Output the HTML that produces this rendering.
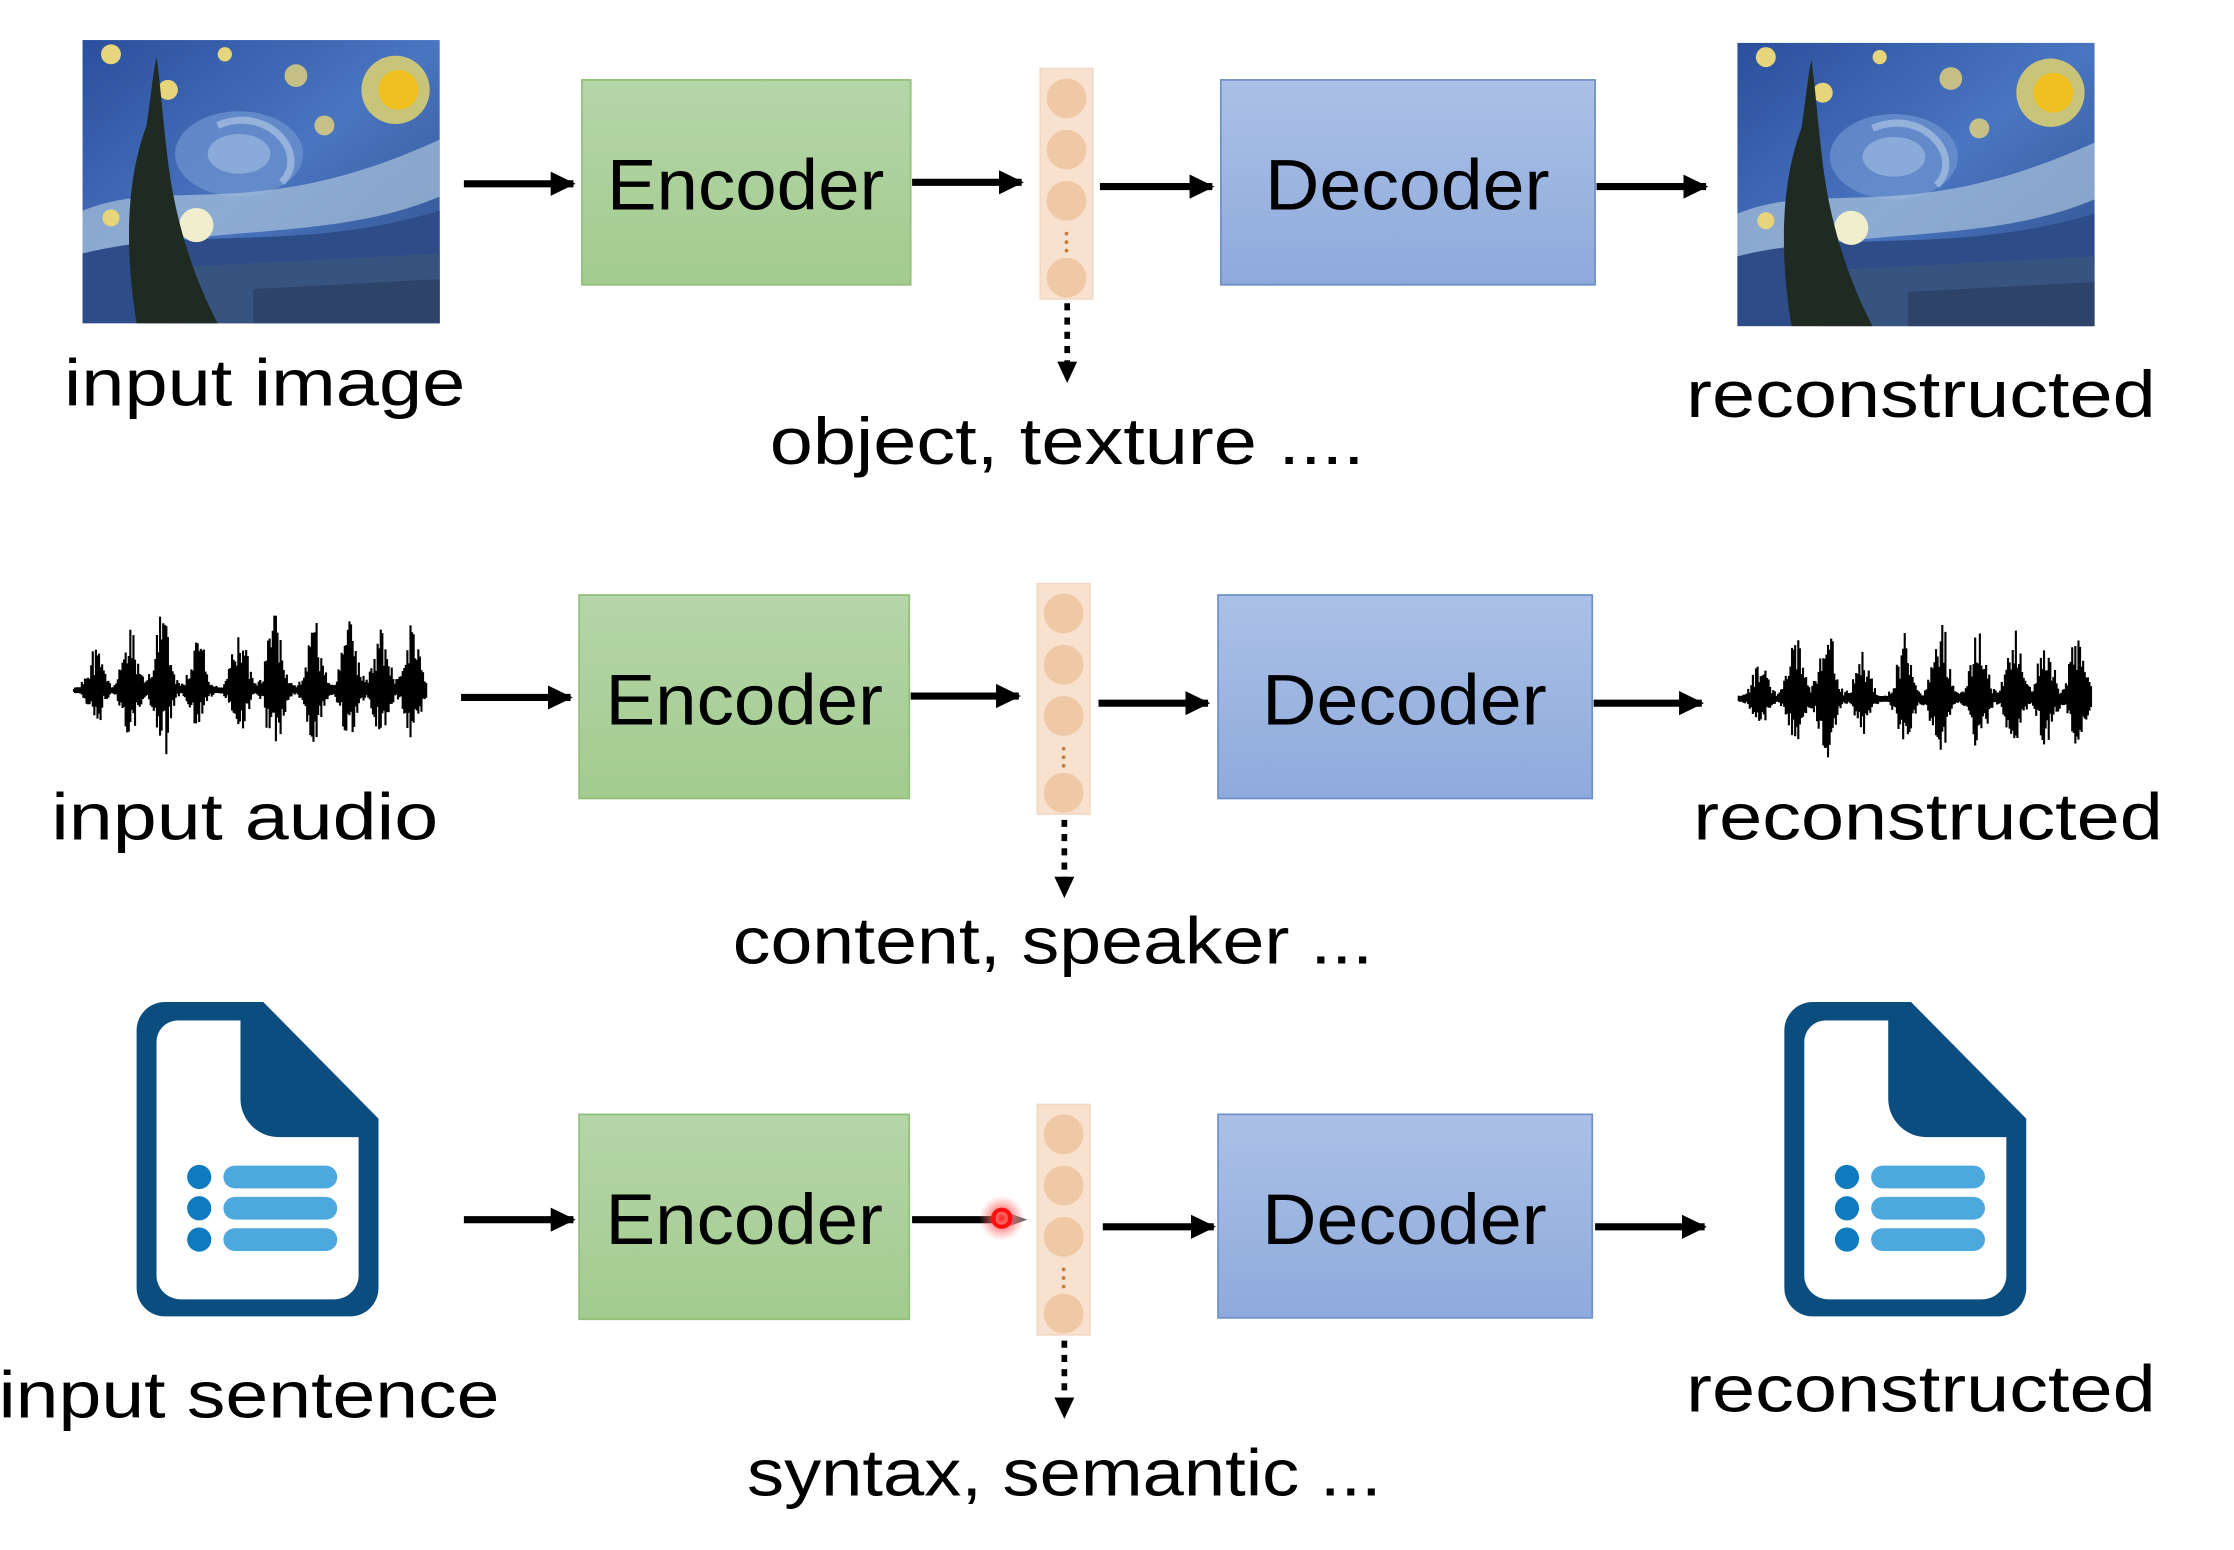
<!DOCTYPE html>
<html><head><meta charset="utf-8"><style>
html,body{margin:0;padding:0;background:#fff;}
svg{display:block;}
text{font-family:"Liberation Sans",sans-serif;fill:#000;}
</style></head><body>
<svg width="2234" height="1550" viewBox="0 0 1570 1089" xmlns="http://www.w3.org/2000/svg">
<defs>
<linearGradient id="gG" x1="0" y1="0" x2="0" y2="1"><stop offset="0" stop-color="#b5d6a8"/><stop offset="1" stop-color="#a3cb8f"/></linearGradient>
<linearGradient id="gB" x1="0" y1="0" x2="0" y2="1"><stop offset="0" stop-color="#abc0e6"/><stop offset="1" stop-color="#8eaadc"/></linearGradient>
<linearGradient id="sky" x1="0" y1="0" x2="1" y2="1"><stop offset="0" stop-color="#2b4f9c"/><stop offset="0.5" stop-color="#4a75c0"/><stop offset="1" stop-color="#2d4f8a"/></linearGradient>
<radialGradient id="glow"><stop offset="0" stop-color="#ff2020"/><stop offset="0.5" stop-color="#ff6060" stop-opacity="0.6"/><stop offset="1" stop-color="#ff8080" stop-opacity="0"/></radialGradient>
<marker id="ah" markerWidth="4" markerHeight="4" refX="3.2" refY="2" orient="auto" markerUnits="strokeWidth"><path d="M0,0.3 L3.5,2 L0,3.7 Z" fill="#000"/></marker>
<g id="painting">
<rect x="0" y="0" width="251" height="199" fill="url(#sky)"/>
<ellipse cx="110" cy="80" rx="45" ry="30" fill="#6f95d0" opacity="0.7"/>
<ellipse cx="110" cy="80" rx="22" ry="14" fill="#9bb8e0" opacity="0.7"/>
<path d="M95,60 C130,45 160,80 140,100" stroke="#b8cde8" stroke-width="5" fill="none" opacity="0.6"/>
<path d="M0,120 C60,95 120,130 251,70 L251,110 C180,140 100,130 0,150Z" fill="#a9c3dc" opacity="0.7"/>
<path d="M0,150 C80,130 150,150 251,120 L251,199 L0,199Z" fill="#2e4d88"/>
<path d="M60,160 L251,150 L251,199 L60,199Z" fill="#3a5680" opacity="0.8"/>
<path d="M120,175 L251,168 L251,199 L120,199Z" fill="#2a3d5e" opacity="0.7"/>
<circle cx="220" cy="35" r="24" fill="#e8d96a" opacity="0.8"/>
<circle cx="222" cy="35" r="14" fill="#f0c020"/>
<circle cx="20" cy="10" r="7" fill="#e6d57a"/><circle cx="60" cy="35" r="7" fill="#e6d57a"/>
<circle cx="150" cy="25" r="8" fill="#e6d57a" opacity="0.8"/><circle cx="170" cy="60" r="7" fill="#e6d57a" opacity="0.8"/>
<circle cx="80" cy="130" r="12" fill="#f0eecc"/><circle cx="20" cy="125" r="6" fill="#e6d57a"/>
<circle cx="100" cy="10" r="5" fill="#e6d57a"/>
<path d="M38,199 C30,150 30,100 45,60 C48,40 50,20 52,12 C56,40 58,80 64,110 C72,150 85,180 95,199Z" fill="#1f2a22"/>
</g>
</defs>

<!-- Row 1 -->
<use href="#painting" x="58" y="28"/>
<use href="#painting" x="1221" y="30"/>
<rect x="409" y="56" width="231" height="144" fill="url(#gG)" stroke="#8fbf78" stroke-width="1.2"/>
<text x="524" y="147" font-size="50" text-anchor="middle" textLength="195" lengthAdjust="spacingAndGlyphs">Encoder</text>
<rect x="858" y="56" width="263" height="144" fill="url(#gB)" stroke="#6f8fc8" stroke-width="1.2"/>
<text x="989" y="147" font-size="50" text-anchor="middle" textLength="200" lengthAdjust="spacingAndGlyphs">Decoder</text>
<g id="lat1">
<rect x="731" y="48" width="37" height="162" fill="#f8e2cf" stroke="#f0d6bf"/>
<circle cx="749.5" cy="69" r="14" fill="#efc9a6"/><circle cx="749.5" cy="105" r="14" fill="#efc9a6"/><circle cx="749.5" cy="141" r="14" fill="#efc9a6"/><circle cx="749.5" cy="195" r="14" fill="#efc9a6"/>
<circle cx="749.5" cy="164" r="1.3" fill="#c07a3a"/><circle cx="749.5" cy="170" r="1.3" fill="#c07a3a"/><circle cx="749.5" cy="176" r="1.3" fill="#c07a3a"/>
</g>
<g stroke="#000" stroke-width="5" fill="none">
<line x1="326" y1="129" x2="403" y2="129" marker-end="url(#ah)"/>
<line x1="641" y1="128" x2="718" y2="128" marker-end="url(#ah)"/>
<line x1="773" y1="131" x2="852" y2="131" marker-end="url(#ah)"/>
<line x1="1122" y1="131" x2="1199" y2="131" marker-end="url(#ah)"/>
</g>
<line x1="750" y1="213" x2="750" y2="258" stroke="#000" stroke-width="4" stroke-dasharray="5,5"/>
<path d="M743,254 L757,254 L750,269Z" fill="#000"/>
<text x="186" y="285" font-size="46" text-anchor="middle" textLength="282" lengthAdjust="spacingAndGlyphs">input image</text>
<text x="750" y="326" font-size="46" text-anchor="middle" textLength="418" lengthAdjust="spacingAndGlyphs">object, texture ....</text>
<text x="1350" y="293" font-size="46" text-anchor="middle" textLength="330" lengthAdjust="spacingAndGlyphs">reconstructed</text>

<!-- Row 2 -->
<rect x="407" y="418" width="232" height="143" fill="url(#gG)" stroke="#8fbf78" stroke-width="1.2"/>
<text x="523" y="509" font-size="50" text-anchor="middle" textLength="195" lengthAdjust="spacingAndGlyphs">Encoder</text>
<rect x="856" y="418" width="263" height="143" fill="url(#gB)" stroke="#6f8fc8" stroke-width="1.2"/>
<text x="987" y="509" font-size="50" text-anchor="middle" textLength="200" lengthAdjust="spacingAndGlyphs">Decoder</text>
<use href="#lat1" x="-2" y="362"/>
<g stroke="#000" stroke-width="5" fill="none">
<line x1="324" y1="490" x2="401" y2="490" marker-end="url(#ah)"/>
<line x1="640" y1="489" x2="716" y2="489" marker-end="url(#ah)"/>
<line x1="772" y1="494" x2="849" y2="494" marker-end="url(#ah)"/>
<line x1="1120" y1="494" x2="1196" y2="494" marker-end="url(#ah)"/>
</g>
<line x1="748" y1="576" x2="748" y2="620" stroke="#000" stroke-width="4" stroke-dasharray="5,5"/>
<path d="M741,616 L755,616 L748,631Z" fill="#000"/>
<text x="172" y="590" font-size="46" text-anchor="middle" textLength="272" lengthAdjust="spacingAndGlyphs">input audio</text>
<text x="740" y="677" font-size="46" text-anchor="middle" textLength="450" lengthAdjust="spacingAndGlyphs">content, speaker ...</text>
<text x="1355" y="590" font-size="46" text-anchor="middle" textLength="330" lengthAdjust="spacingAndGlyphs">reconstructed</text>

<!-- Row 3 -->
<g id="doc">
<path d="M115,704 H185 L266,786 V905 A20,20 0 0 1 246,925 H116 A20,20 0 0 1 96,905 V724 A20,20 0 0 1 116,704Z" fill="#0c4d80"/>
<path d="M124,717 H169 V772 A27,27 0 0 0 196,799 H252 V897 A17,17 0 0 1 235,913 H127 A17,17 0 0 1 110,897 V732 A15,15 0 0 1 124,717Z" fill="#fff"/>
<circle cx="140" cy="827" r="8.5" fill="#0f7bbf"/><circle cx="140" cy="849" r="8.5" fill="#0f7bbf"/><circle cx="140" cy="871" r="8.5" fill="#0f7bbf"/>
<rect x="157" y="819" width="80" height="16" rx="8" fill="#4da8de"/><rect x="157" y="841" width="80" height="16" rx="8" fill="#4da8de"/><rect x="157" y="863" width="80" height="16" rx="8" fill="#4da8de"/>
</g>
<use href="#doc" x="1158" y="0"/>
<rect x="407" y="783" width="232" height="144" fill="url(#gG)" stroke="#8fbf78" stroke-width="1.2"/>
<text x="523" y="874" font-size="50" text-anchor="middle" textLength="195" lengthAdjust="spacingAndGlyphs">Encoder</text>
<rect x="856" y="783" width="263" height="143" fill="url(#gB)" stroke="#6f8fc8" stroke-width="1.2"/>
<text x="987" y="874" font-size="50" text-anchor="middle" textLength="200" lengthAdjust="spacingAndGlyphs">Decoder</text>
<use href="#lat1" x="-2" y="728"/>
<g stroke="#000" stroke-width="5" fill="none">
<line x1="326" y1="857" x2="403" y2="857" marker-end="url(#ah)"/>
<line x1="641" y1="857" x2="700" y2="857"/>
<line x1="775" y1="862" x2="853" y2="862" marker-end="url(#ah)"/>
<line x1="1121" y1="862" x2="1198" y2="862" marker-end="url(#ah)"/>
</g>
<path d="M708,852 L722,857 L708,862Z" fill="#666"/>
<circle cx="704" cy="856" r="16" fill="url(#glow)"/>
<circle cx="704" cy="856" r="6" fill="none" stroke="#ff1010" stroke-width="3"/>
<line x1="748" y1="942" x2="748" y2="985" stroke="#000" stroke-width="4" stroke-dasharray="5,5"/>
<path d="M741,982 L755,982 L748,997Z" fill="#000"/>
<text x="175" y="996" font-size="46" text-anchor="middle" textLength="352" lengthAdjust="spacingAndGlyphs">input sentence</text>
<text x="748" y="1051" font-size="46" text-anchor="middle" textLength="446" lengthAdjust="spacingAndGlyphs">syntax, semantic ...</text>
<text x="1350" y="992" font-size="46" text-anchor="middle" textLength="330" lengthAdjust="spacingAndGlyphs">reconstructed</text>

<g id="w1" stroke="#000" stroke-width="1.5"></g>
<g id="w2" stroke="#000" stroke-width="1.5"></g>
</svg>
<script>
(function(){
var ns="http://www.w3.org/2000/svg";
var seed=11;function r(){seed=(seed*16807)%2147483647;return seed/2147483647;}
function wave(g,x0,x1,cy){
  var el=document.getElementById(g);
  var base=document.createElementNS(ns,"line");
  base.setAttribute("x1",x0);base.setAttribute("x2",x1);base.setAttribute("y1",cy);base.setAttribute("y2",cy);base.setAttribute("stroke-width","4");el.appendChild(base);
  var bursts=[[0.06,0.5],[0.16,0.8],[0.25,1.0],[0.35,0.6],[0.47,0.8],[0.57,1.0],[0.68,0.9],[0.78,0.9],[0.87,0.8],[0.96,0.85]];
  for(var x=x0;x<=x1;x+=1.1){
    var t=(x-x0)/(x1-x0),env=0.04;
    for(var i=0;i<bursts.length;i++){var d=(t-bursts[i][0])/0.028;env+=Math.exp(-d*d)*bursts[i][1];}
    var a=env*(0.35+0.65*r())*55;
    var b=env*(0.35+0.65*r())*40;
    if(r()<0.03&&env>0.4){a*=1.4;b*=1.7;}
    var l=document.createElementNS(ns,"line");
    l.setAttribute("x1",x);l.setAttribute("x2",x);l.setAttribute("y1",cy-a);l.setAttribute("y2",cy+b);
    el.appendChild(l);
  }
}
wave("w1",52,300,485);
wave("w2",1222,1470,491);
})();
</script>
</body></html>
